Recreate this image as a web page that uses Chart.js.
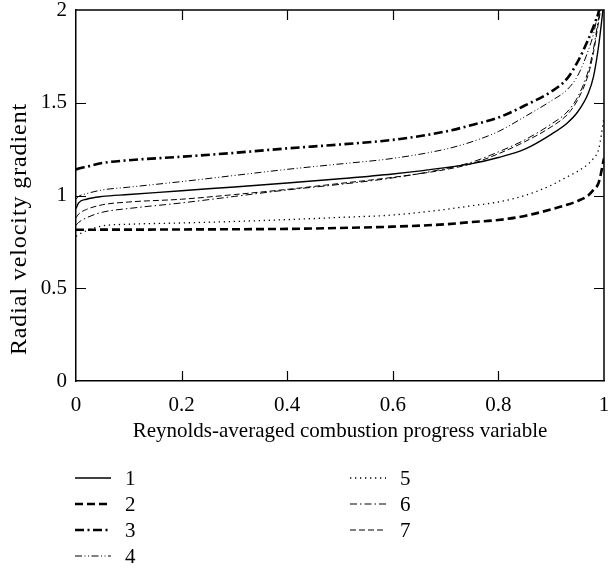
<!DOCTYPE html>
<html><head><meta charset="utf-8">
<script src="https://cdn.jsdelivr.net/npm/chart.js@4/dist/chart.umd.min.js"></script>
<style>html,body{margin:0;padding:0;background:#fff}</style>
</head><body>
<canvas id="c" width="610" height="571"></canvas>
<script>
const xValues = [0, 0.005, 0.02, 0.05, 0.1, 0.2, 0.3, 0.4, 0.5, 0.6, 0.7, 0.75, 0.8, 0.85, 0.9, 0.93, 0.95, 0.97, 0.98, 0.99, 1.0];
const series1 = [0.93, 0.96, 0.98, 0.995, 1.005, 1.026, 1.046, 1.067, 1.09, 1.116, 1.15, 1.172, 1.205, 1.25, 1.33, 1.39, 1.45, 1.55, 1.64, 1.81, 2.05];
const series2 = [0.815, 0.815, 0.815, 0.816, 0.816, 0.817, 0.818, 0.82, 0.825, 0.832, 0.845, 0.857, 0.868, 0.89, 0.925, 0.95, 0.97, 1.0, 1.03, 1.07, 1.2];
const series3 = [1.14, 1.145, 1.155, 1.175, 1.19, 1.209, 1.23, 1.254, 1.275, 1.30, 1.345, 1.38, 1.42, 1.485, 1.56, 1.63, 1.72, 1.84, 1.91, 1.99, 2.1];
const series4 = [0.98, 0.995, 1.01, 1.03, 1.045, 1.075, 1.108, 1.141, 1.17, 1.20, 1.25, 1.29, 1.345, 1.425, 1.51, 1.57, 1.645, 1.78, 1.87, 2.0, 2.1];
const series5 = [0.78, 0.79, 0.81, 0.836, 0.845, 0.852, 0.86, 0.87, 0.882, 0.895, 0.925, 0.945, 0.965, 1.0, 1.055, 1.10, 1.13, 1.17, 1.2, 1.25, 1.42];
const series6 = [0.84, 0.855, 0.88, 0.91, 0.93, 0.96, 0.995, 1.03, 1.06, 1.095, 1.145, 1.18, 1.235, 1.3, 1.385, 1.45, 1.53, 1.67, 1.79, 1.96, 2.1];
const series7 = [0.88, 0.9, 0.925, 0.95, 0.965, 0.98, 1.005, 1.033, 1.065, 1.098, 1.14, 1.172, 1.225, 1.29, 1.37, 1.435, 1.515, 1.65, 1.77, 1.94, 2.1];
const seriesNames = ['1', '2', '3', '4', '5', '6', '7'];
const xTicks = [0, 0.2, 0.4, 0.6, 0.8, 1];
const yTicks = [0, 0.5, 1, 1.5, 2];
const xTitle = 'Reynolds-averaged combustion progress variable';
const yTitle = 'Radial velocity gradient';

const allSeries = [series1, series2, series3, series4, series5, series6, series7];
const styles = [
  {w: 1.4, dash: []},
  {w: 2.6, dash: [8, 4]},
  {w: 2.6, dash: [9, 3.5, 2, 3.5]},
  {w: 1, dash: [7, 2.5, 1, 2.5, 1, 2.5]},
  {w: 1.3, dash: [1.3, 3.7]},
  {w: 1, dash: [7, 3, 1.5, 3]},
  {w: 1, dash: [6, 3]}
];
const FONT = "'Liberation Serif', 'DejaVu Serif', serif";
const FS = 21;

const datasets = allSeries.map((s, i) => ({
  label: seriesNames[i],
  data: xValues.map((x, j) => ({x: x, y: s[j]})),
  borderColor: '#000',
  borderWidth: styles[i].w,
  borderDash: styles[i].dash,
  pointRadius: 0,
  fill: false,
  cubicInterpolationMode: 'monotone'
}));

const framePlugin = {
  id: 'frame',
  afterDatasetsDraw(chart) {
    const {ctx, chartArea: a, scales: {x, y}} = chart;
    ctx.save();
    ctx.strokeStyle = '#000';
    ctx.lineWidth = 1.5;
    ctx.setLineDash([]);
    ctx.beginPath();
    ctx.moveTo(a.left, a.top); ctx.lineTo(a.right, a.top); ctx.lineTo(a.right, a.bottom);
    ctx.stroke();
    const L = 10;
    ctx.lineWidth = 1.2;
    ctx.beginPath();
    xTicks.slice(1, -1).forEach(v => {
      const px = Math.round(x.getPixelForValue(v)) + 0.5;
      ctx.moveTo(px, a.bottom); ctx.lineTo(px, a.bottom - L);
      ctx.moveTo(px, a.top); ctx.lineTo(px, a.top + L);
    });
    yTicks.slice(1, -1).forEach(v => {
      const py = Math.round(y.getPixelForValue(v)) + 0.5;
      ctx.moveTo(a.left, py); ctx.lineTo(a.left + L, py);
      ctx.moveTo(a.right, py); ctx.lineTo(a.right - L, py);
    });
    ctx.stroke();
    ctx.restore();
  },
  afterDraw(chart) {
    const {ctx} = chart;
    ctx.save();
    ctx.fillStyle = '#000';
    ctx.font = '24px ' + FONT;
    try { ctx.letterSpacing = '0.9px'; } catch (e) {}
    ctx.translate(20, 229);
    ctx.rotate(-Math.PI / 2);
    ctx.textAlign = 'center';
    ctx.textBaseline = 'middle';
    ctx.fillText(yTitle, 0, 0);
    ctx.restore();

    // legend
    ctx.save();
    ctx.fillStyle = '#000';
    ctx.strokeStyle = '#000';
    ctx.font = FS + 'px ' + FONT;
    ctx.textBaseline = 'middle';
    ctx.textAlign = 'left';
    const rowsY = [478, 504, 530, 556];
    chart.data.datasets.forEach((ds, i) => {
      const col = i < 4 ? 0 : 1;
      const row = i < 4 ? i : i - 4;
      const x0 = col === 0 ? 75 : 350;
      const yy = rowsY[row];
      ctx.lineWidth = ds.borderWidth;
      ctx.setLineDash(ds.borderDash);
      ctx.beginPath();
      ctx.moveTo(x0, yy); ctx.lineTo(x0 + 36, yy);
      ctx.stroke();
      ctx.fillText(ds.label, x0 + 50, yy + 1);
    });
    ctx.restore();
  }
};

new Chart(document.getElementById('c'), {
  type: 'line',
  data: {datasets},
  options: {
    responsive: false,
    animation: false,
    layout: {padding: {top: 10, right: 6, left: 0, bottom: 120}},
    plugins: {legend: {display: false}, tooltip: {enabled: false}},
    scales: {
      x: {
        type: 'linear', min: 0, max: 1,
        afterBuildTicks(s) { s.ticks = xTicks.map(v => ({value: v})); },
        afterFit(s) { s.height = 70; s.paddingLeft = 0; s.paddingRight = 0; },
        grid: {display: false, drawTicks: false},
        border: {display: true, color: '#000', width: 1.5},
        ticks: {color: '#000', padding: 12, maxRotation: 0, font: {family: FONT, size: FS}, callback: v => String(v)},
        title: {display: true, text: xTitle, color: '#000', font: {family: FONT, size: FS}, padding: {top: 0, bottom: 7}}
      },
      y: {
        type: 'linear', min: 0, max: 2,
        afterBuildTicks(s) { s.ticks = yTicks.map(v => ({value: v})); },
        afterFit(s) { s.width = 76; s.paddingTop = 0; s.paddingBottom = 0; },
        grid: {display: false, drawTicks: false},
        border: {display: true, color: '#000', width: 1.5},
        ticks: {color: '#000', padding: 9, font: {family: FONT, size: FS}, callback: v => String(v)}
      }
    }
  },
  plugins: [framePlugin]
});
</script>
</body></html>
